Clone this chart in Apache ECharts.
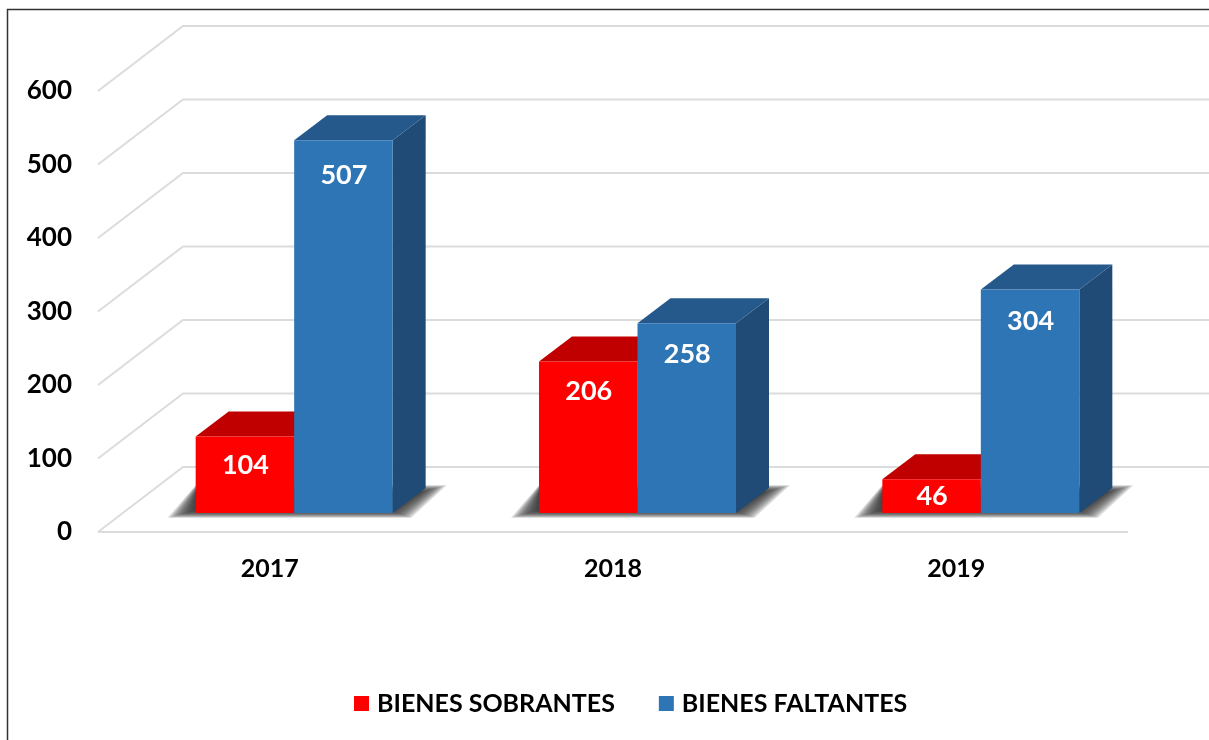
<!DOCTYPE html>
<html>
<head>
<meta charset="utf-8">
<style>
  html, body { margin: 0; padding: 0; background: #fff; }
  #main { width: 1209px; height: 740px; }
</style>
<script src="https://cdn.jsdelivr.net/npm/echarts@6/dist/echarts.min.js"></script>
</head>
<body>
<div id="main"></div>
<script>
const years = ['2017', '2018', '2019']
const sobrantes = [104, 206, 46]
const faltantes = [507, 258, 304]
const yTicks = [0, 100, 200, 300, 400, 500, 600]

const FONT = 'Lato'
const WALL_DX = 85
const WALL_DY = 65
const BAR_DX = 33
const BAR_DY = 25
const OFFSET_X = 24.5 // bars stand inside the floor, not on the front edge
const OFFSET_Y = 19
const BAR_W = 98.5

function poly(points, fill, extra) {
  return { type: 'polygon', shape: { points }, style: Object.assign({ fill }, extra || {}) }
}

// side: -1 is the left bar of the pair, 0 the right one
function barRender(side, front, top, right) {
  return function (params, api) {
    const cat = api.value(0)
    const val = api.value(1)
    const base = api.coord([cat, 0])
    const head = api.coord([cat, val])
    const x0 = base[0] + OFFSET_X + side * BAR_W
    const x1 = x0 + BAR_W
    const y0 = base[1] - OFFSET_Y
    const y1 = head[1] - OFFSET_Y
    const h = y0 - y1
    return {
      type: 'group',
      children: [
        poly([[x1, y0], [x1 + BAR_DX, y0 - BAR_DY], [x1 + BAR_DX, y1 - BAR_DY], [x1, y1]], right),
        poly([[x0, y1], [x1, y1], [x1 + BAR_DX, y1 - BAR_DY], [x0 + BAR_DX, y1 - BAR_DY]], top),
        { type: 'rect', shape: { x: x0, y: y1, width: BAR_W, height: h }, style: { fill: front } },
        {
          type: 'text',
          z2: 10,
          style: {
            text: String(val),
            x: (x0 + x1) / 2 + 0.5,
            y: y1 + Math.min(h / 2, 27 + h * 0.02),
            align: 'center',
            verticalAlign: 'middle',
            fill: '#fff',
            font: 'bold 27px ' + FONT,
          },
        },
      ],
    }
  }
}

function wallRender(params, api) {
  const sys = params.coordSys
  const y = api.coord([0, api.value(1)])[1]
  const left = sys.x
  const lines = [
    {
      type: 'polyline',
      shape: { points: [[left, y], [left + WALL_DX, y - WALL_DY], [1209, y - WALL_DY]] },
      style: { fill: null, stroke: '#dcdcdc', lineWidth: 2 },
    },
  ]
  if (api.value(1) === 0) {
    lines.push({
      type: 'line',
      shape: { x1: left, y1: y, x2: sys.x + sys.width, y2: y },
      style: { stroke: '#dcdcdc', lineWidth: 2 },
    })
  }
  return { type: 'group', children: lines }
}

// soft floor shadow: stacked translucent polygons, shrinking towards the bars
function shadowRender(params, api) {
  const base = api.coord([api.value(0), 0])
  const x0 = base[0] + OFFSET_X - BAR_W
  const x1 = base[0] + OFFSET_X + BAR_W
  const y0 = base[1] - OFFSET_Y
  const layers = []
  for (let i = 0; i < 12; i++) {
    const grow = 7 - i * 1.2
    layers.push(
      poly(
        [
          [x0 - 14 - grow * 2, y0 + 1 + grow * 0.55],
          [x1 + 8 + grow * 1.5, y0 + 1 + grow * 0.55],
          [x1 + 40 + grow * 2, y0 - 24 - grow * 0.55],
          [x0, y0 - 24 - grow * 0.55],
        ],
        'rgba(45,45,45,0.16)'
      )
    )
  }
  return { type: 'group', children: layers }
}

const option = {
  animation: false,
  backgroundColor: '#fff',
  grid: { left: 98, right: 81, top: 91, bottom: 208 },
  legend: {
    data: ['BIENES SOBRANTES', 'BIENES FALTANTES'],
    left: 354,
    top: 691,
    padding: 0,
    icon: 'rect',
    itemWidth: 15,
    itemHeight: 15,
    itemGap: 44,
    textStyle: { fontFamily: FONT, fontWeight: 'bold', fontSize: 25, color: '#000', padding: [0, 0, 0, 3] },
  },
  xAxis: {
    type: 'category',
    data: years,
    axisLine: { show: false },
    axisTick: { show: false },
    axisLabel: { fontFamily: FONT, fontWeight: 'bold', fontSize: 25, color: '#000', margin: 24 },
  },
  yAxis: {
    type: 'value',
    min: 0,
    max: 600,
    interval: 100,
    splitLine: { show: false },
    axisLine: { show: false },
    axisTick: { show: false },
    axisLabel: { fontFamily: FONT, fontWeight: 'bold', fontSize: 26, color: '#000', margin: 26, padding: [3, 0, 0, 0] },
  },
  series: [
    {
      name: 'paredes',
      type: 'custom',
      z: 1,
      silent: true,
      renderItem: wallRender,
      data: yTicks.map((v) => [0, v]),
    },
    {
      name: 'sombra',
      type: 'custom',
      z: 2,
      silent: true,
      renderItem: shadowRender,
      data: years.map((y, i) => [i, 0]),
    },
    {
      name: 'BIENES SOBRANTES',
      type: 'custom',
      z: 3,
      itemStyle: { color: '#ff0000' },
      renderItem: barRender(-1, '#ff0000', '#c00000', '#a00000'),
      data: sobrantes.map((v, i) => [i, v]),
    },
    {
      name: 'BIENES FALTANTES',
      type: 'custom',
      z: 4,
      itemStyle: { color: '#2e75b6' },
      renderItem: barRender(0, '#2e75b6', '#25598b', '#1f4b76'),
      data: faltantes.map((v, i) => [i, v]),
    },
  ],
  graphic: [
    {
      type: 'polyline',
      silent: true,
      shape: { points: [[7.5, 740], [7.5, 9.5], [1209, 9.5]] },
      style: { fill: null, stroke: '#333', lineWidth: 1.5 },
    },
  ],
}

const myChart = echarts.init(document.getElementById('main'))
myChart.setOption(option)
</script>
</body>
</html>
